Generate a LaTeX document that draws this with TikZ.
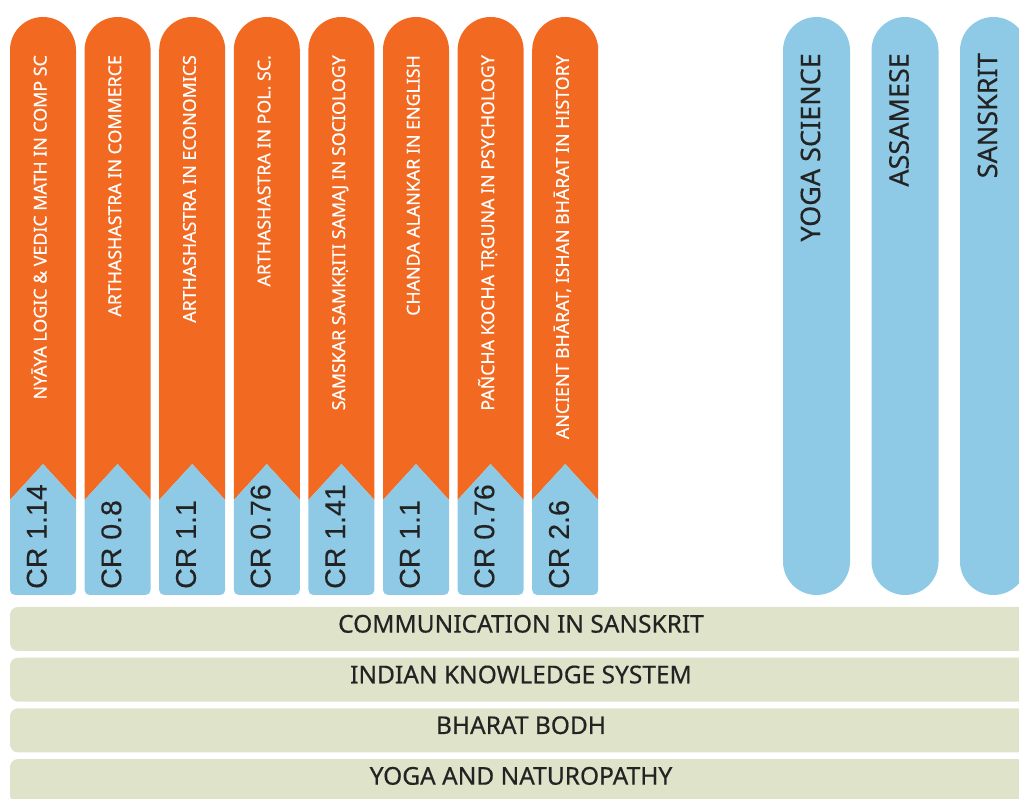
\documentclass[tikz,border=0pt]{standalone}
\usepackage{fontspec}
\setmainfont{Noto Sans}[FakeBold=0.4]
\newfontfamily\crfont{Liberation Sans}[FakeBold=0.3]
\usepackage{tikz}
\definecolor{orangecol}{HTML}{F26A21}
\definecolor{crblue}{HTML}{8ECAE6}
\definecolor{barcol}{HTML}{DEE3C9}
\definecolor{inkcol}{HTML}{232323}

\begin{document}
\begin{tikzpicture}[x=1pt, y=1pt,
    every node/.style={inner sep=0pt, text height=0.72em, text depth=0pt},
    subjtext/.style={rotate=90, anchor=east, text=white, font=\fontsize{17.8}{20}\selectfont},
    crtext/.style={rotate=90, anchor=west, text=inkcol, font=\crfont\fontsize{28.5}{31}\selectfont},
    langtext/.style={rotate=90, anchor=east, text=inkcol, font=\fontsize{27}{30}\selectfont},
    bartext/.style={text=inkcol, font=\fontsize{24.5}{27}\selectfont}]
    \useasboundingbox (0,0) rectangle (1019,799);

    % minor subjects with credits
    \foreach \subj/\cr [count=\n from 0, evaluate=\n as \xc using 43+74.6*\n] in {
        NYĀYA LOGIC \& VEDIC MATH IN COMP SC/1.14,
        ARTHASHASTRA IN COMMERCE/0.8,
        ARTHASHASTRA IN ECONOMICS/1.1,
        ARTHASHASTRA IN POL. SC./0.76,
        SAMSKAR SAMKṚITI SAMAJ IN SOCIOLOGY/1.41,
        CHANDA ALANKAR IN ENGLISH/1.1,
        PAÑCHA KOCHA TṚGUNA IN PSYCHOLOGY/0.76,
        {ANCIENT BHĀRAT, ISHAN BHĀRAT IN HISTORY}/2.6}{
        \fill[orangecol] (\xc-33,299) -- (\xc-33,749) arc[start angle=180, end angle=0, radius=33]
            -- (\xc+33,299) -- (\xc,335) -- cycle;
        \fill[crblue] (\xc-33,299) [rounded corners=5] -- (\xc-33,204) -- (\xc+33,204)
            [sharp corners] -- (\xc+33,299) -- (\xc,335) -- cycle;
        \node[subjtext] (subj\n) at (\xc,744) {\subj};
        \node[crtext] (cr\n) at (\xc,210) {CR \cr};
    }

    % languages
    \foreach \lang [count=\n from 0, evaluate=\n as \xc using 816.5+88.5*\n] in {YOGA SCIENCE, ASSAMESE, SANSKRIT}{
        \fill[crblue, rounded corners=33.5] (\xc-33.5,204) rectangle (\xc+33.5,782);
        \node[langtext] (lang\n) at (\xc,746) {\lang};
    }

    % common courses
    \foreach \course [count=\n from 0, evaluate=\n as \yc using 170-50.7*\n] in {
        COMMUNICATION IN SANSKRIT, INDIAN KNOWLEDGE SYSTEM, BHARAT BODH, YOGA AND NATUROPATHY}{
        \fill[barcol, rounded corners=8] (10,\yc-22) rectangle (1032,\yc+22);
        \node[bartext] (course\n) at (521,\yc) {\course};
    }
\end{tikzpicture}
\end{document}
